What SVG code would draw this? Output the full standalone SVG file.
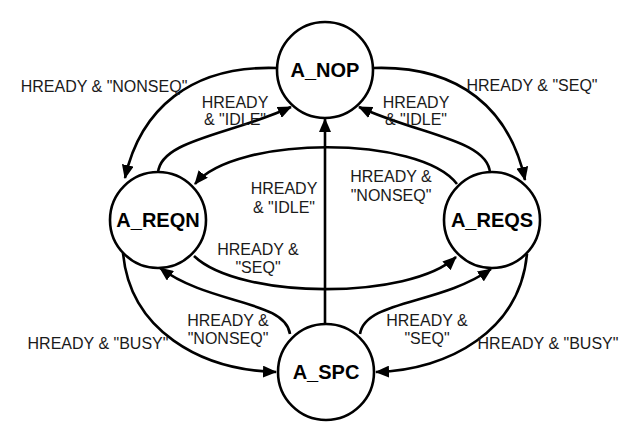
<svg xmlns="http://www.w3.org/2000/svg" width="640" height="440" viewBox="0 0 640 440">
<style>
.node circle{fill:#fff;stroke:#000;stroke-width:2.6}
.node text{font-family:"Liberation Sans",Arial,sans-serif;font-weight:bold;font-size:20px;text-anchor:middle;fill:#000}
.edge{fill:none;stroke:#000;stroke-width:2.6;marker-end:url(#arr)}
.lbl{font-family:"Liberation Sans",Arial,sans-serif;font-size:16px;text-anchor:middle;fill:#1a1a1a}
</style>
<defs>
<marker id="arr" markerUnits="userSpaceOnUse" markerWidth="14" markerHeight="12" refX="13" refY="6" orient="auto">
<path d="M0,0 L14,6 L0,12 z" fill="#000"/>
</marker>
</defs>
<rect width="640" height="440" fill="#fff"/>
<g id="connectors">
<path class="edge" d="M277,68 C190,65 140,110 125,178"/>
<path class="edge" d="M158,173 C160,140 230,135 291,107"/>
<path class="edge" d="M490,173 C488,140 420,135 359,107"/>
<path class="edge" d="M373,68 C460,65 510,110 525,180"/>
<path class="edge" d="M457,184 C420,135 235,135 195,184"/>
<path class="edge" d="M194,256 C240,300 410,300 456,257"/>
<path class="edge" d="M325,323 L325,119"/>
<path class="edge" d="M123,253 C130,330 200,370 276,372"/>
<path class="edge" d="M290,334 C285,300 210,305 160,268"/>
<path class="edge" d="M360,334 C365,300 440,305 491,269"/>
<path class="edge" d="M527,254 C520,330 450,370 376,372"/>
</g>
<g id="labels">
<text class="lbl" x="104" y="92">HREADY &amp; "NONSEQ"</text>
<text class="lbl" x="235" y="108">HREADY</text>
<text class="lbl" x="235" y="125">&amp; "IDLE"</text>
<text class="lbl" x="532" y="91">HREADY &amp; "SEQ"</text>
<text class="lbl" x="416" y="108">HREADY</text>
<text class="lbl" x="416" y="125">&amp; "IDLE"</text>
<text class="lbl" x="284" y="194">HREADY</text>
<text class="lbl" x="284" y="213">&amp; "IDLE"</text>
<text class="lbl" x="391" y="182">HREADY &amp;</text>
<text class="lbl" x="391" y="201">"NONSEQ"</text>
<text class="lbl" x="258" y="255">HREADY &amp;</text>
<text class="lbl" x="258" y="273">"SEQ"</text>
<text class="lbl" x="98" y="349">HREADY &amp; "BUSY"</text>
<text class="lbl" x="228" y="326">HREADY &amp;</text>
<text class="lbl" x="228" y="344">"NONSEQ"</text>
<text class="lbl" x="427" y="326">HREADY &amp;</text>
<text class="lbl" x="427" y="344">"SEQ"</text>
<text class="lbl" x="548" y="349">HREADY &amp; "BUSY"</text>
</g>
<g id="A_NOP" class="node"><circle cx="325" cy="70" r="48"/><text x="325" y="77">A_NOP</text></g>
<g id="A_REQN" class="node"><circle cx="158" cy="220" r="48"/><text x="158" y="227">A_REQN</text></g>
<g id="A_REQS" class="node"><circle cx="492" cy="220" r="48"/><text x="492" y="227">A_REQS</text></g>
<g id="A_SPC" class="node"><circle cx="326" cy="372" r="48"/><text x="326" y="379">A_SPC</text></g>
</svg>
